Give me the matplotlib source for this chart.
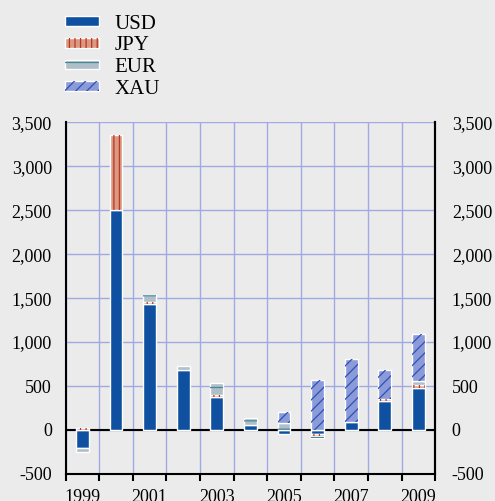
import numpy as np
import matplotlib
matplotlib.use("Agg")
import matplotlib.pyplot as plt
from matplotlib.patches import Patch
from matplotlib.legend_handler import HandlerTuple
from matplotlib.ticker import FuncFormatter

plt.rcParams['font.family'] = ['Liberation Serif', 'DejaVu Serif']
plt.rcParams['hatch.linewidth'] = 0.9

# data
years = np.arange(1999, 2010)
usd = [-210, 2500, 1435, 680, 370, 60, -40, -45, 95, 333, 477]
jpy = [25, 860, 25, 0, 30, 0, 0, -20, 0, 25, 35]
eur = [-45, 0, 75, 45, 140, 75, 75, -30, 0, 0, 40]
xau = [0, 0, 0, 0, 0, 0, 125, 572, 715, 319, 539]

labels = ['USD', 'JPY', 'EUR', 'XAU']
faces = ['#0f51a0', '#dc9880', '#aebfc9', '#8c9ad8']
hatch_cols = [None, '#b83828', '#4a8896', '#2a52b8']
hatches = [None, '|||', '--', '///']

bg = '#ebebeb'
fig = plt.figure(figsize=(4.95, 5.01), dpi=100, facecolor=bg)
ax = fig.add_axes([0.1327, 0.054, 0.879 - 0.1327, 0.756 - 0.054])
ax.set_facecolor(bg)

width = 0.38
pos = np.zeros(len(years))
neg = np.zeros(len(years))
handles = []
for vals, lab, fc, hc, h in zip([usd, jpy, eur, xau], labels, faces, hatch_cols, hatches):
    v = np.array(vals, dtype=float)
    bottom = np.where(v >= 0, pos, neg)
    m = v != 0
    ax.bar(years[m], v[m], width, bottom=bottom[m], color=fc, edgecolor='white',
           linewidth=1.0, zorder=3)
    if h:
        ax.bar(years[m], v[m], width, bottom=bottom[m], color='none', edgecolor=hc,
               hatch=h, linewidth=0, zorder=4)
        handles.append((Patch(facecolor=fc, edgecolor='white', linewidth=1),
                        Patch(facecolor='none', edgecolor=hc, hatch=h, linewidth=0)))
    else:
        handles.append(Patch(facecolor=fc, edgecolor='white', linewidth=1))
    pos = pos + np.where(v > 0, v, 0)
    neg = neg + np.where(v < 0, v, 0)

ax.axhline(0, color='black', lw=1.5, zorder=2)

ax.set_xlim(1998.5, 2009.5)
ax.set_ylim(-500, 3500)
yt = np.arange(-500, 3501, 500)
ax.set_yticks(yt)
fmt = FuncFormatter(lambda v, p: f'{int(v):,}')
ax.yaxis.set_major_formatter(fmt)
ax.tick_params(axis='y', length=0, pad=10, labelsize=13)

# year boundaries carry the ticks and grid, odd years carry labels
ax.set_xticks(np.arange(1998.5, 2010, 1))
ax.set_xticklabels([])
ax.set_xticks(years[::2], minor=True)
ax.set_xticklabels([str(y) for y in years[::2]], minor=True)
ax.tick_params(axis='x', which='major', length=5, width=1.5, color='black', direction='out')
ax.tick_params(axis='x', which='minor', length=0, pad=11, labelsize=13)

ax.grid(True, which='major', color='#a0a9e2', lw=1, zorder=0)
ax.set_axisbelow(True)

ax.spines['top'].set_visible(False)
for s in ['left', 'right', 'bottom']:
    ax.spines[s].set_color('black')
    ax.spines[s].set_linewidth(1.5)

ax2 = ax.twinx()
ax2.set_ylim(-500, 3500)
ax2.set_yticks(yt)
ax2.yaxis.set_major_formatter(fmt)
ax2.tick_params(axis='y', length=0, pad=12, labelsize=13)
for s in ['top', 'left', 'bottom']:
    ax2.spines[s].set_visible(False)
ax2.spines['right'].set_linewidth(1.5)

fig.legend(handles, labels, handler_map={tuple: HandlerTuple(ndivide=1)},
           loc='upper left', bbox_to_anchor=(0.131, 0.971), frameon=False,
           fontsize=15, handlelength=1.65, handleheight=0.35, handletextpad=0.75,
           labelspacing=0.13, borderpad=0, borderaxespad=0)

fig.savefig('out.png', dpi=100, facecolor=bg)
